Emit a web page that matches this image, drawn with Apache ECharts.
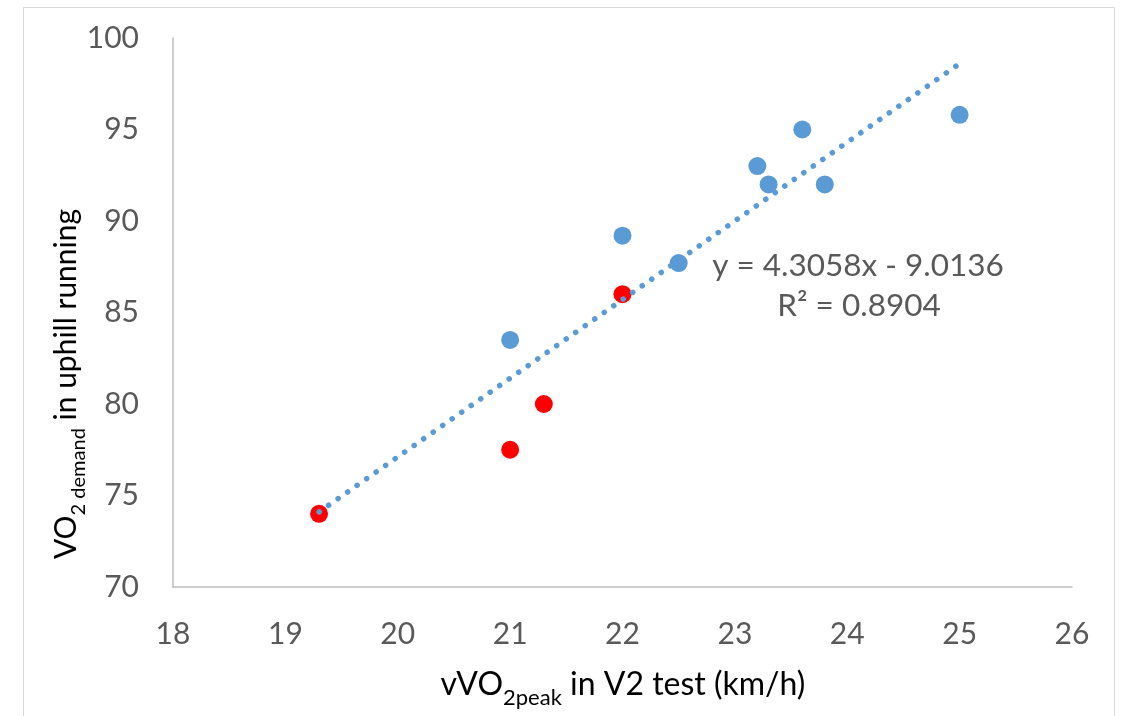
<!DOCTYPE html>
<html>
<head>
<meta charset="utf-8">
<script src="https://cdn.jsdelivr.net/npm/echarts@6/dist/echarts.min.js"></script>
<style>
  html, body { margin: 0; padding: 0; background: #fff; }
  #main { width: 1125px; height: 716px; }
</style>
</head>
<body>
<div id="main"></div>
<script>
// data
var blueX = [21, 22, 22.5, 23.2, 23.3, 23.6, 23.8, 25];
var blueY = [83.5, 89.2, 87.7, 93, 92, 95, 92, 95.8];
var redX = [19.3, 21, 21.3, 22];
var redY = [74, 77.5, 80, 86];
// trendline end points (y = 4.3058x - 9.0136)
var trendX = [19.3, 25];
var trendY = [74.1, 98.6];
var xTicks = [18, 26, 1];
var yTicks = [70, 100, 5];
var eqLines = ['y = 4.3058x - 9.0136', 'R² = 0.8904'];

var FONT = 'Lato, "Open Sans", sans-serif';
var GREY = '#595959';
var BLUE = '#5B9BD5';

function pairs(xs, ys) {
  return xs.map(function (x, i) { return [x, ys[i]]; });
}

var chart = echarts.init(document.getElementById('main'), null, { renderer: 'canvas' });

var option = {
  backgroundColor: '#fff',
  animation: false,
  grid: { left: 173, right: 53, top: 38, bottom: 129, containLabel: false },
  xAxis: {
    type: 'value',
    min: xTicks[0], max: xTicks[1], interval: xTicks[2],
    axisLine: { show: true, onZero: false, lineStyle: { color: '#BFBFBF', width: 1.5 } },
    axisTick: { show: false },
    splitLine: { show: false },
    axisLabel: { color: GREY, fontFamily: FONT, fontSize: 30, margin: 32 }
  },
  yAxis: {
    type: 'value',
    min: yTicks[0], max: yTicks[1], interval: yTicks[2],
    axisLine: { show: true, onZero: false, lineStyle: { color: '#BFBFBF', width: 1.5 } },
    axisTick: { show: false },
    splitLine: { show: false },
    axisLabel: { color: GREY, fontFamily: FONT, fontSize: 30, margin: 34 }
  },
  series: [
    {
      type: 'scatter',
      data: pairs(blueX, blueY),
      symbolSize: 18,
      itemStyle: { color: BLUE, opacity: 1 },
      z: 2
    },
    {
      type: 'scatter',
      data: pairs(redX, redY),
      symbolSize: 18,
      itemStyle: { color: '#FF0000', opacity: 1 },
      z: 2
    },
    {
      type: 'line',
      data: pairs(trendX, trendY),
      showSymbol: false,
      symbol: 'none',
      lineStyle: { color: BLUE, width: 5.5, type: [0.1, 11.5], cap: 'round' },
      z: 3
    }
  ],
  graphic: [
    {
      type: 'rect',
      shape: { x: 23.5, y: 7.5, width: 1091, height: 740 },
      style: { fill: null, stroke: '#D9D9D9', lineWidth: 1 },
      silent: true
    },
    {
      type: 'text',
      x: 858, y: 266,
      style: {
        text: eqLines[0], fill: GREY, font: '31.5px ' + FONT,
        textAlign: 'center', textVerticalAlign: 'middle'
      }
    },
    {
      type: 'text',
      x: 859, y: 306,
      style: {
        text: eqLines[1], fill: GREY, font: '31.5px ' + FONT,
        textAlign: 'center', textVerticalAlign: 'middle'
      }
    },
    {
      type: 'text',
      x: 623, y: 689,
      style: {
        text: '{m|vVO}{s|2peak}{m| in V2 test (km/h)}',
        textAlign: 'center', textVerticalAlign: 'middle',
        rich: {
          m: { fontFamily: FONT, fontSize: 32, color: GREY, verticalAlign: 'top' },
          s: { fontFamily: FONT, fontSize: 22, color: GREY, verticalAlign: 'top', padding: [18, 0, 0, 0] }
        }
      }
    },
    {
      type: 'text',
      x: 70, y: 384,
      rotation: Math.PI / 2,
      style: {
        text: '{m|VO}{s|2 demand}{m| in uphill running}',
        textAlign: 'center', textVerticalAlign: 'middle',
        rich: {
          m: { fontFamily: FONT, fontSize: 30, color: GREY, verticalAlign: 'top' },
          s: { fontFamily: FONT, fontSize: 20, color: GREY, verticalAlign: 'top', padding: [17, 0, 0, 0] }
        }
      }
    }
  ]
};

chart.setOption(option);
</script>
</body>
</html>
